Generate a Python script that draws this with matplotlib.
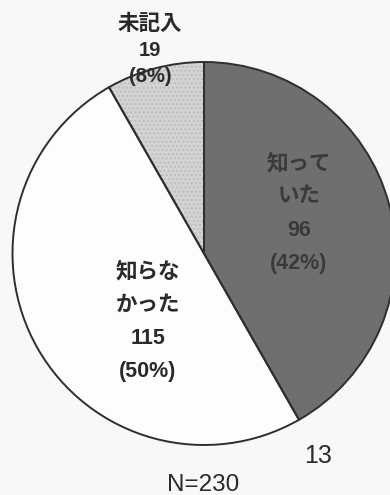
import matplotlib.pyplot as plt

plt.rcParams['font.family'] = ['Liberation Sans', 'Noto Sans CJK JP', 'DejaVu Sans']

# Survey answers
labels = ['知って\nいた', '知らな\nかった', '未記入']
counts = [96, 115, 19]
colors = ['#6f6f6f', '#fdfdfc', '#d4d4d2']
total = sum(counts)

W, H = 390, 495
fig = plt.figure(figsize=(W / 100, H / 100), dpi=100)
fig.patch.set_facecolor('#f8f8f6')
ax = fig.add_axes([0, 0, 1, 1])

center = (204, H - 253.5)
radius = 191.5
common = dict(startangle=90, counterclock=False, center=center,
              radius=radius, frame=True)

# fill, then a dotted texture, then the outlines on top
ax.pie(counts, colors=colors, wedgeprops=dict(linewidth=0), **common)
tex = ax.pie(counts, wedgeprops=dict(linewidth=0, fill=False), **common)[0]
for w, h, c in zip(tex, ['', '', '....'], ['#666666', '#eeeeee', '#bdbdbb']):
    w.set_hatch(h)
    w.set_edgecolor(c)
ax.pie(counts, wedgeprops=dict(linewidth=1.4, edgecolor='#2e2e2e', fill=False),
       **common)
ax.set_xlim(0, W)
ax.set_ylim(0, H)
ax.set_aspect('equal')
ax.axis('off')

# label text: name lines, count, share
pos = [(299, 164, 33), (148, 272, 33), (150, 24, 26.5)]
txt_col = ['#3a3a3a', '#2a2a2a', '#2a2a2a']
for (x, y, step), lab, n, col in zip(pos, labels, counts, txt_col):
    pct = round(n / total * 100)
    names = lab.split('\n')
    lines = names + [str(n), f'({pct}%)']
    for i, s in enumerate(lines):
        small = step < 30 and i >= len(names)
        ax.text(x, H - (y + i * step), s, ha='center', va='center',
                fontsize=14.5 if small else 15.5,
                color=col, fontweight='bold')

ax.text(318, H - 456, '13', ha='center', va='center', fontsize=18, color='#2a2a2a')
ax.text(203, H - 485, f'N={total}', ha='center', va='center', fontsize=17.5, color='#2a2a2a')

fig.savefig('out.png', dpi=100, facecolor=fig.get_facecolor())
